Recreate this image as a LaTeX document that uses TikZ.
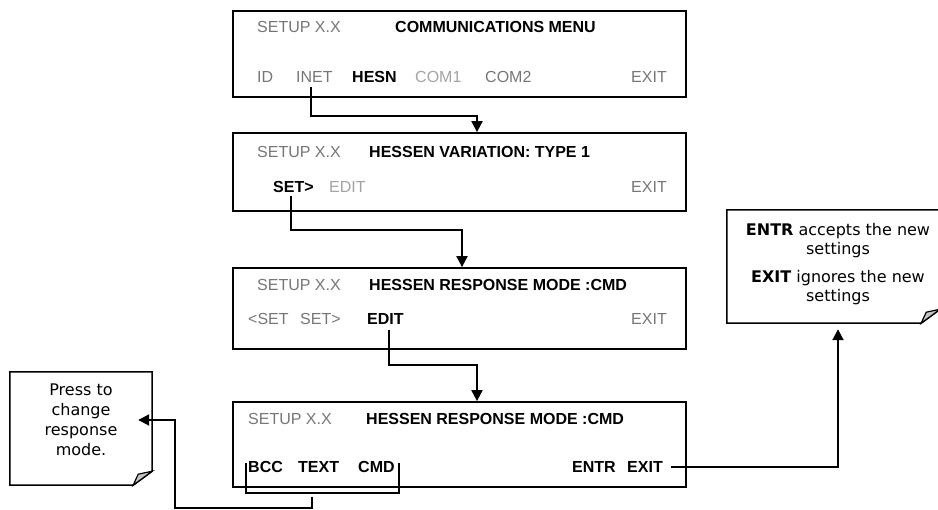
\documentclass[tikz,border=0pt]{standalone}
\usepackage{fontspec}
\setmainfont{Liberation Sans}
\newfontfamily\notefont{DejaVu Sans}
\usetikzlibrary{arrows.meta}
\definecolor{dimtxt}{HTML}{767676}
\definecolor{faint}{HTML}{A3A3A3}
\definecolor{foldgray}{HTML}{C4C4C4}
\begin{document}
\begin{tikzpicture}[x=1pt,y=-1pt,
  screen/.style={draw, line width=1.8pt, minimum width=453pt, inner sep=0},
  txt/.style={anchor=base west, inner sep=0, font=\fontsize{16}{19}\selectfont},
  txtr/.style={txt, anchor=base east},
  dim/.style={text=dimtxt},
  hi/.style={font=\fontsize{16}{19}\selectfont\bfseries},
  conn/.style={line width=2pt},
  arr/.style={conn, -{Triangle[length=11pt,width=11pt]}},
  notebox/.style={line width=1.5pt, fill=white},
  notefold/.style={line width=1.2pt, fill=foldgray},
  notetxt/.style={inner sep=0, align=center, font=\notefont\fontsize{16}{20}\selectfont}
]
\useasboundingbox (0,0) rectangle (938,510);
\clip (0,0) rectangle (938,510);

% screens
\node[screen, minimum height=86pt] (s1) at (459.5,54) {};
\node[screen, minimum height=78pt] (s2) at (459.5,172) {};
\node[screen, minimum height=81pt] (s3) at (459.5,308.5) {};
\node[screen, minimum height=85pt] (s4) at (459.5,444.5) {};

% screen 1
\node[txt,dim] (s1a) at (257,33) {SETUP X.X};
\node[txt,hi] (s1t) at (395,33) {COMMUNICATIONS MENU};
\node[txt,dim] (s1id) at (257,83) {ID};
\node[txt,dim] (s1inet) at (296,83) {INET};
\node[txt,hi] (s1hesn) at (352,83) {HESN};
\node[txt,text=faint] (s1c1) at (415,83) {COM1};
\node[txt,dim] (s1c2) at (485,83) {COM2};
\node[txtr,dim] (s1x) at (667,83) {EXIT};

% screen 2
\node[txt,dim] (s2a) at (257,158) {SETUP X.X};
\node[txt,hi] (s2t) at (369,158) {HESSEN VARIATION: TYPE 1};
\node[txt,hi] (s2set) at (273,193) {SET>};
\node[txt,text=faint] (s2edit) at (329,193) {EDIT};
\node[txtr,dim] (s2x) at (667,193) {EXIT};

% screen 3
\node[txt,dim] (s3a) at (257,291) {SETUP X.X};
\node[txt,hi] (s3t) at (369,291) {HESSEN RESPONSE MODE :CMD};
\node[txt,dim] (s3prev) at (248,325) {<SET};
\node[txt,dim] (s3next) at (300,325) {SET>};
\node[txt,hi] (s3edit) at (367,325) {EDIT};
\node[txtr,dim] (s3x) at (667,325) {EXIT};

% screen 4
\node[txt,dim] (s4a) at (248,425) {SETUP X.X};
\node[txt,hi] (s4t) at (366,425) {HESSEN RESPONSE MODE :CMD};
\node[txt,hi] (s4bcc) at (248,473) {BCC};
\node[txt,hi] (s4text) at (298,473) {TEXT};
\node[txt,hi] (s4cmd) at (358,473) {CMD};
\node[txt,hi] (s4entr) at (572,473) {ENTR};
\node[txt,hi,anchor=base east] (s4exit) at (663,473) {EXIT};

% notes
\node[minimum width=142pt, minimum height=113pt, inner sep=0] (noteA) at (81,428.5) {};
\draw[notebox] (noteA.north west) -- (noteA.north east) -- ([yshift=14pt]noteA.south east)
  -- ([xshift=-19pt]noteA.south east) -- (noteA.south west) -- cycle;
\draw[notefold] ([xshift=-19pt]noteA.south east) -- ([yshift=14pt]noteA.south east)
  -- ([xshift=-14pt,yshift=11pt]noteA.south east) -- cycle;
\node[notetxt] (noteAtxt) at (81,420) {Press to\\change\\response\\mode.};

\node[minimum width=213pt, minimum height=113pt, inner sep=0] (noteB) at (833.5,266.5) {};
\draw[notebox] (noteB.north west) -- (noteB.north east) -- ([yshift=14pt]noteB.south east)
  -- ([xshift=-19pt]noteB.south east) -- (noteB.south west) -- cycle;
\draw[notefold] ([xshift=-19pt]noteB.south east) -- ([yshift=14pt]noteB.south east)
  -- ([xshift=-14pt,yshift=11pt]noteB.south east) -- cycle;
\node[notetxt, font=\notefont\fontsize{16}{19}\selectfont] (noteBtxt) at (838,264.5)
  {\textbf{ENTR} accepts the new\\settings\\[9pt]\textbf{EXIT} ignores the new\\settings};

% connectors
\draw[arr] ([xshift=-3pt,yshift=-4pt]s1inet.south) -- ++(0,29) -| ([xshift=17.5pt]s2.north);
\draw[arr] ([xshift=-2pt,yshift=-3pt]s2set.south) -- ++(0,34) -| ([xshift=2.5pt]s3.north);
\draw[arr] ([xshift=4pt,yshift=-5pt]s3edit.south) -- ++(0,35) -| ([xshift=17.5pt]s4.north);
\draw[arr] ([xshift=8pt]s4exit.east) -| ([xshift=4.5pt,yshift=-6pt]noteB.south);
\draw[conn] ([xshift=-2pt,yshift=4pt]s4bcc.west) -- ++(0,30) -| ([xshift=4pt,yshift=4pt]s4cmd.east);
\coordinate (brk) at (312,497);
\draw[arr] (brk) -- ++(0,11) -| ([xshift=23pt,yshift=8.5pt]noteA.east)
  -- ([xshift=-14pt,yshift=8.5pt]noteA.east);
\end{tikzpicture}
\end{document}
